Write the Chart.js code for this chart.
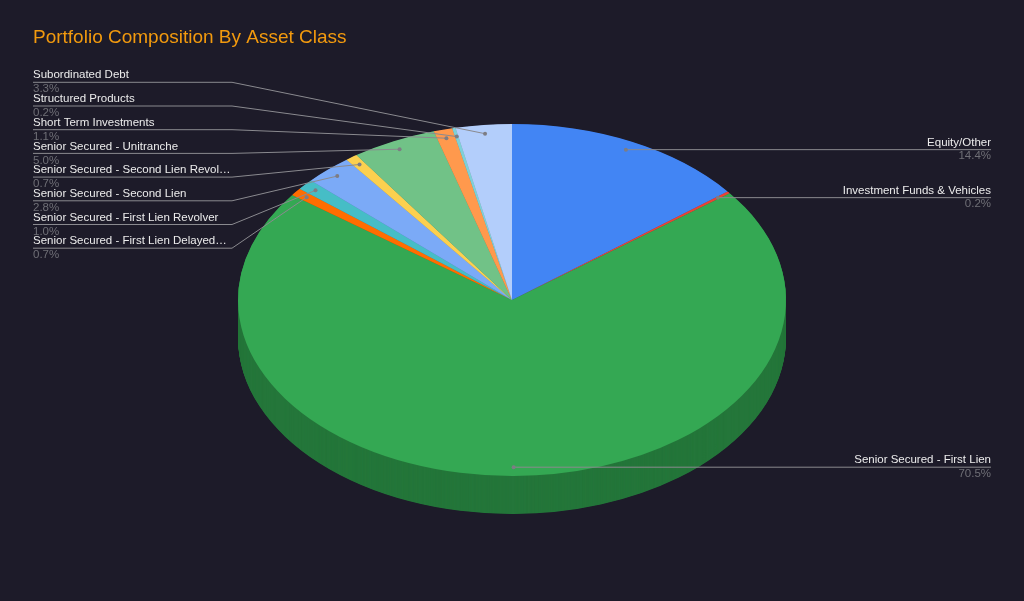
<!DOCTYPE html>
<html>
<head>
<meta charset="utf-8">
<title>Portfolio Composition By Asset Class</title>
<script src="https://cdn.jsdelivr.net/npm/chart.js@4.4.1/dist/chart.umd.min.js"></script>
<style>
  html, body { margin: 0; padding: 0; background: #1d1b29; }
  #wrap { width: 1024px; height: 601px; }
</style>
</head>
<body>
<div id="wrap"><canvas id="myChart" width="1024" height="601"></canvas></div>
<script>
"use strict"

// data, clockwise from 12 o'clock
const asset_labels = [
    'Equity/Other',
    'Investment Funds & Vehicles',
    'Senior Secured - First Lien',
    'Senior Secured - First Lien Delayed…',
    'Senior Secured - First Lien Revolver',
    'Senior Secured - Second Lien',
    'Senior Secured - Second Lien Revol…',
    'Senior Secured - Unitranche',
    'Short Term Investments',
    'Structured Products',
    'Subordinated Debt'
]
const asset_values = [14.4, 0.2, 70.5, 0.7, 1.0, 2.8, 0.7, 5.0, 1.1, 0.2, 3.3]
const asset_colors = [
    '#4285F4', '#EA4335', '#34A853', '#FF6D01', '#46BDC6', '#7BAAF7',
    '#FCD04F', '#71C287', '#FF994D', '#7ED1D7', '#B3CEFB'
]

// layout of the tilted pie (screen px)
const PIE_CX = 512
const PIE_CY = 300
const PIE_RX = 274
const PIE_RY = 176
const PIE_DEPTH = 38
const FONT = '"Liberation Sans", Arial, sans-serif'

function shade(hex, f) {
    const n = parseInt(hex.slice(1), 16)
    const r = Math.round(((n >> 16) & 255) * f)
    const g = Math.round(((n >> 8) & 255) * f)
    const b = Math.round((n & 255) * f)
    return 'rgb(' + r + ',' + g + ',' + b + ')'
}

function tilt(ctx, el) {
    ctx.translate(PIE_CX, PIE_CY)
    ctx.scale(PIE_RX / el.outerRadius, PIE_RY / el.outerRadius)
    ctx.translate(-el.x, -el.y)
}

const pie3d = {
    id: 'pie3d',
    beforeDatasetsDraw(chart) {
        const ctx = chart.ctx
        const arcs = chart.getDatasetMeta(0).data
        // side wall: copies of the arcs in a darker colour, stacked downwards
        const sides = arcs.map((el, i) => {
            const s = Object.create(el)
            const dark = shade(asset_colors[i], 0.7)
            s.options = Object.assign({}, el.options, { backgroundColor: dark, borderColor: dark })
            return s
        })
        for (let d = PIE_DEPTH; d > 0; d -= 0.5) {
            ctx.save()
            ctx.translate(0, d)
            tilt(ctx, arcs[0])
            sides.forEach(s => s.draw(ctx))
            ctx.restore()
        }
        // top face is drawn by chart.js with this transform
        ctx.save()
        tilt(ctx, arcs[0])
    },
    afterDatasetsDraw(chart) {
        const ctx = chart.ctx
        ctx.restore()
        const arcs = chart.getDatasetMeta(0).data

        let left_slot = 0
        for (let i = arcs.length - 1; i >= 0; i--) {
            const el = arcs[i]
            const mid = (el.startAngle + el.endAngle) / 2
            const px = PIE_CX + Math.cos(mid) * PIE_RX * 0.95
            const py = PIE_CY + Math.sin(mid) * PIE_RY * 0.95
            const pct = asset_values[i].toFixed(1) + '%'
            const name = asset_labels[i]

            ctx.save()
            ctx.strokeStyle = '#8a8a8f'
            ctx.lineWidth = 1
            ctx.font = '11.5px ' + FONT
            ctx.textBaseline = 'middle'
            if (Math.cos(mid) > 0) {
                // right side labels
                const lx = 991
                ctx.beginPath()
                ctx.moveTo(px, py)
                ctx.lineTo(lx, py)
                ctx.stroke()
                ctx.textAlign = 'right'
                ctx.fillStyle = '#ececec'
                ctx.fillText(name, lx, py - 7)
                ctx.fillStyle = '#6f6f76'
                ctx.fillText(pct, lx, py + 6.5)
            } else {
                // left side labels, stacked from the top
                const ly = 82.3 + left_slot * 23.7
                left_slot++
                ctx.beginPath()
                ctx.moveTo(33, ly)
                ctx.lineTo(232, ly)
                ctx.lineTo(px, py)
                ctx.stroke()
                ctx.textAlign = 'left'
                ctx.fillStyle = '#ececec'
                ctx.fillText(name, 33, ly - 7)
                ctx.fillStyle = '#6f6f76'
                ctx.fillText(pct, 33, ly + 7)
            }
            ctx.fillStyle = '#7d7d84'
            ctx.beginPath()
            ctx.arc(px, py, 2, 0, Math.PI * 2)
            ctx.fill()
            ctx.restore()
        }
    }
}

const ctx = document.getElementById('myChart')
let asset_chart = new Chart(ctx,
{
    type: 'pie',
    data:
    {
        labels: asset_labels,
        datasets: [
        {
            data: asset_values,
            backgroundColor: asset_colors,
            borderWidth: 0,
        },]
    },
    options:
    {
        responsive: false,
        animation: false,
        events: [],
        layout: { padding: { left: 33, right: 33, bottom: 20 } },
        plugins:
        {
            legend: { display: false },
            tooltip: { enabled: false },
            title:
            {
                display: true,
                text: 'Portfolio Composition By Asset Class',
                align: 'start',
                color: '#F29A0E',
                font: { family: FONT, size: 19, weight: 'normal' },
                padding: { top: 26, bottom: 10 }
            }
        }
    },
    plugins: [pie3d]
});
</script>
</body>
</html>
